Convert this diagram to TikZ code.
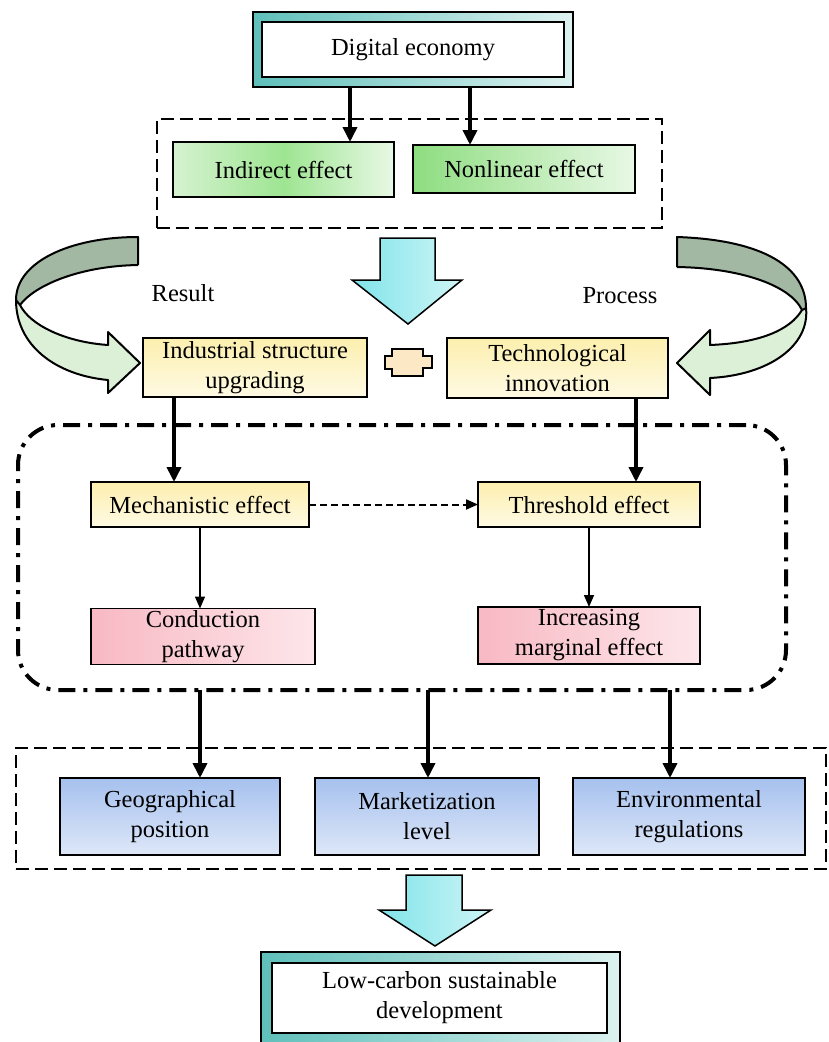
\documentclass[tikz,border=0pt]{standalone}
\usepackage{fontspec}
\setmainfont{Liberation Serif}
\usetikzlibrary{arrows.meta,calc}
\definecolor{tealA}{HTML}{5FBFBA}
\definecolor{tealB}{HTML}{DDF2F0}
\definecolor{cyanA}{HTML}{7FE4EA}
\definecolor{cyanB}{HTML}{CFF5F6}
\definecolor{grnA}{HTML}{D6F2D0}
\definecolor{grnM}{HTML}{9EE592}
\definecolor{grnB}{HTML}{E8F8E5}
\definecolor{grnN}{HTML}{8EDD80}
\definecolor{ylwA}{HTML}{FCEFAE}
\definecolor{ylwB}{HTML}{FFFAE4}
\definecolor{pnkA}{HTML}{F8B9C3}
\definecolor{pnkB}{HTML}{FDE6EA}
\definecolor{bluA}{HTML}{A6C1EE}
\definecolor{bluB}{HTML}{DDE7F8}
\definecolor{darkband}{HTML}{A2B8A2}
\definecolor{lightband}{HTML}{DCEFD7}
\definecolor{plusfill}{HTML}{FDE8C6}
\tikzset{
  base/.style={draw=black, line width=1.8pt, inner sep=0pt, outer sep=0pt, align=center},
  outerbox/.style={base, line width=2pt, left color=tealA, right color=tealB},
  innerbox/.style={base, line width=2.5pt, fill=white},
  grnbox/.style={base, left color=grnA, right color=grnB, middle color=grnM},
  grnbox2/.style={base, left color=grnN, right color=grnB},
  ylwbox/.style={base, top color=ylwA, bottom color=ylwB},
  pnkbox/.style={base, left color=pnkA, right color=pnkB},
  blubox/.style={base, top color=bluA, bottom color=bluB},
  dashbox/.style={draw=black, line width=1.8pt, dash pattern=on 13pt off 6pt, inner sep=0pt, outer sep=0pt},
  ddbox/.style={draw=black, line width=4pt, dash pattern=on 17pt off 8pt on 4pt off 8pt, rounded corners=40pt, inner sep=0pt, outer sep=0pt},
  thickarr/.style={draw=black, line width=3.6pt, -{Triangle[length=15pt,width=14pt]}},
  thinarr/.style={draw=black, line width=1.5pt, -{Triangle[length=12pt,width=10pt]}},
  dasharr/.style={draw=black, line width=2pt, dash pattern=on 7pt off 4pt, -{Triangle[length=12pt,width=10pt]}},
  bigarrow/.style={draw=black, line width=1.5pt, left color=cyanA, right color=cyanB},
  band/.style={draw=black, line width=2pt, line join=round},
  lbl/.style={inner sep=0pt, outer sep=0pt}
}
\begin{document}
\begin{tikzpicture}[x=1pt,y=-1pt,font=\fontsize{24.5}{30}\selectfont]
\useasboundingbox (0,0) rectangle (828,1042);
\fill[white] (0,0) rectangle (828,1042);

% Digital economy
\node[outerbox, minimum width=320pt, minimum height=75pt] (deo) at (413,49.5) {};
\node[innerbox, minimum width=302pt, minimum height=55pt] (de) at (413,49.5) {Digital economy};

% dashed group 1
\node[dashbox, minimum width=505pt, minimum height=109pt] (g1) at (409.5,173.5) {};
\node[grnbox, minimum width=221pt, minimum height=55pt] (ind) at (283.5,169.5) {Indirect effect};
\node[grnbox2, minimum width=222pt, minimum height=48pt] (nonl) at (524,169) {Nonlinear effect};
\draw[thickarr] (deo.south -| 350,0) -- (ind.north -| 350,0);
\draw[thickarr] (deo.south -| 470,0) -- (nonl.north -| 470,0);

% big cyan arrow
\shade[bigarrow] (380,238) -- (435,238) -- (435,280) -- (462,280) -- (408,324) -- (352,280) -- (380,280) -- cycle;

% labels
\node[lbl] (res) at (183,293) {Result};
\node[lbl] (proc) at (620,296) {Process};

% middle boxes
\node[ylwbox, minimum width=224pt, minimum height=59pt] (isu) at (255,367.5) {Industrial structure\\upgrading};
\node[ylwbox, minimum width=221pt, minimum height=60pt] (ti) at (557.5,368) {Technological\\innovation};

% connector shape
\draw[line width=1.8pt, fill=plusfill, line join=miter]
  (391.7,349.3) -- (423.3,349.3) -- (423.3,356) -- (431.7,356) -- (431.7,368.3) -- (423.3,368.3)
  -- (423.3,376) -- (391.7,376) -- (391.7,369.3) -- (385,369.3) -- (385,356) -- (391.7,356) -- cycle;

% left curved arrow
\fill[darkband] (138,237) .. controls (70,237) and (16,262) .. (16,300) -- (20,305) .. controls (35,285) and (80,266) .. (138,265) -- cycle;
\draw[band] (138,265) -- (138,237) .. controls (70,237) and (16,262) .. (16,300);
\draw[band] (20,305) .. controls (35,285) and (80,266) .. (138,265);
\filldraw[band, fill=lightband] (16,300) .. controls (16,345) and (55,375) .. (108,380) -- (108,393) -- (140,363) -- (108,332) -- (108,345) .. controls (65,342) and (30,325) .. (20,305) -- cycle;

% right curved arrow
\fill[darkband] (677,237) .. controls (765,240) and (806,268) .. (806,308) -- (802,310) .. controls (790,285) and (740,268) .. (677,267) -- cycle;
\draw[band] (677,267) -- (677,237) .. controls (765,240) and (806,268) .. (806,308);
\draw[band] (802,310) .. controls (790,285) and (740,268) .. (677,267);
\filldraw[band, fill=lightband] (806,308) .. controls (810,345) and (770,375) .. (710,378) -- (710,395) -- (677,363) -- (710,330) -- (710,345) .. controls (760,343) and (790,330) .. (802,310) -- cycle;

% dash-dot group
\node[ddbox, minimum width=768pt, minimum height=265pt] (dd) at (402,557.5) {};
\node[ylwbox, minimum width=218pt, minimum height=45pt] (mech) at (200,504.5) {Mechanistic effect};
\node[ylwbox, minimum width=222pt, minimum height=45pt] (thr) at (589,504.5) {Threshold effect};
\node[pnkbox, minimum width=224pt, minimum height=56pt] (cond) at (203,636.5) {Conduction\\pathway};
\node[pnkbox, minimum width=222pt, minimum height=57pt] (inc) at (589,635.5) {Increasing\\marginal effect};
\draw[thickarr] (isu.south -| 174,0) -- (mech.north -| 174,0);
\draw[thickarr] (ti.south -| 636,0) -- (thr.north -| 636,0);
\draw[dasharr] (mech.east) -- (thr.west);
\draw[thinarr] (mech.south -| 200,0) -- (cond.north -| 200,0);
\draw[thinarr] (thr.south -| 589,0) -- (inc.north -| 589,0);

% bottom dashed group
\node[dashbox, minimum width=810pt, minimum height=121pt] (g2) at (421,808.5) {};
\node[blubox, minimum width=220pt, minimum height=77pt] (geo) at (170,816.5) {Geographical\\position};
\node[blubox, minimum width=224pt, minimum height=77pt] (mkt) at (427,816.5) {Marketization\\level};
\node[blubox, minimum width=232pt, minimum height=77pt] (env) at (689,816.5) {Environmental\\regulations};
\draw[thickarr] (dd.south -| 200,0) -- (geo.north -| 200,0);
\draw[thickarr] (dd.south -| 428,0) -- (mkt.north -| 428,0);
\draw[thickarr] (dd.south -| 670,0) -- (env.north -| 670,0);

% bottom cyan arrow
\shade[bigarrow] (406,875) -- (462,875) -- (462,910) -- (491,910) -- (435,946) -- (379,910) -- (406,910) -- cycle;

% Low-carbon
\node[outerbox, minimum width=359pt, minimum height=94pt] (lco) at (440.5,999) {};
\node[innerbox, minimum width=335pt, minimum height=70pt] (lc) at (439.5,998) {Low-carbon sustainable\\development};
\end{tikzpicture}
\end{document}
